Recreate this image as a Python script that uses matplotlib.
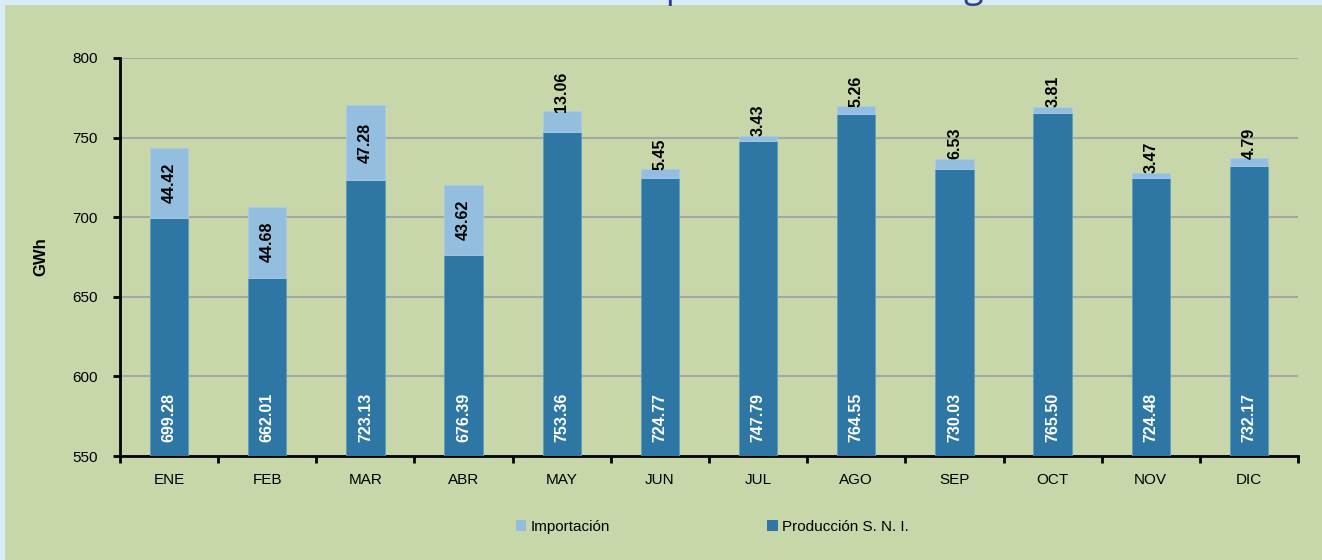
import numpy as np
import matplotlib
matplotlib.use('Agg')
import matplotlib.pyplot as plt
from matplotlib.patches import Rectangle, Patch

plt.rcParams['font.family'] = ['Liberation Sans', 'DejaVu Sans']

# data
meses = ['ENE', 'FEB', 'MAR', 'ABR', 'MAY', 'JUN', 'JUL', 'AGO', 'SEP', 'OCT', 'NOV', 'DIC']
produccion = [699.28, 662.01, 723.13, 676.39, 753.36, 724.77, 747.79, 764.55, 730.03, 765.50, 724.48, 732.17]
importacion = [44.42, 44.68, 47.28, 43.62, 13.06, 5.45, 3.43, 5.26, 6.53, 3.81, 3.47, 4.79]
yticks = [550, 600, 650, 700, 750, 800]

c_prod = '#2E77A5'
c_imp = '#93BEDF'
c_bg = '#C8D7A9'
c_border = '#D6EDF5'

fig = plt.figure(figsize=(13.22, 5.6), dpi=100, facecolor=c_border)
fig.patches.append(Rectangle((5 / 1322, 0), 1, 555 / 560, transform=fig.transFigure,
                             facecolor=c_bg, edgecolor='none', zorder=-5))

# cut-off title at the very top
fig.text(396 / 1322, 1 + 3 / 560, 'Producción e importación de energía', fontsize=25.8,
         family=['Open Sans', 'DejaVu Sans'], color='#2E3F97', ha='left', va='baseline')

ax = fig.add_axes([120 / 1322, 104 / 560, 1178 / 1322, 398 / 560])
ax.set_facecolor('none')
ax.set_zorder(2)

x = np.arange(len(meses))
w = 0.39
ax.bar(x, np.array(produccion) - 550, width=w, bottom=550, color=c_prod, zorder=3,
       edgecolor='#5C9CC4', linewidth=0.6)
ax.bar(x, importacion, width=w, bottom=produccion, color=c_imp, zorder=3,
       edgecolor='#A9CBE6', linewidth=0.6)

tot = np.array(produccion) + np.array(importacion)
for i in range(len(meses)):
    ax.text(x[i], 558.5, f'{produccion[i]:.2f}', rotation=90, ha='center', va='bottom',
            color='white', fontsize=11.5, fontweight='bold', zorder=4)
    if importacion[i] > 20:
        ax.text(x[i], produccion[i] + importacion[i] / 2, f'{importacion[i]:.2f}', rotation=90,
                ha='center', va='center', color='black', fontsize=11.5, fontweight='bold', zorder=4)
    else:
        ax.text(x[i], tot[i] - 0.3, f'{importacion[i]:.2f}', rotation=90,
                ha='center', va='bottom', color='black', fontsize=11.5, fontweight='bold', zorder=4)

ax.set_xlim(-0.5, len(meses) - 0.5)
ax.set_ylim(550, 800)
ax.set_yticks(yticks)
ax.set_xticks(x)
ax.set_xticklabels(meses)
ax.set_xticks(np.arange(-0.5, len(meses)), minor=True)
ax.tick_params(axis='x', which='major', length=0, pad=12.5, labelsize=11)
ax.tick_params(axis='x', which='minor', length=5, width=2, direction='out')
ax.tick_params(axis='y', length=5, width=2, labelsize=11, pad=11)
ax.yaxis.grid(True, color='#A6A6A6', linewidth=1.5, zorder=1)
ax.set_axisbelow(True)
for s in ['top', 'right']:
    ax.spines[s].set_visible(False)
ax.spines['left'].set_linewidth(2)
ax.spines['bottom'].set_linewidth(2)
ax.set_ylabel('GWh', fontsize=12, fontweight='bold', labelpad=17)

handles = [Patch(facecolor=c_imp, label='Importación'),
           Patch(facecolor=c_prod, label='Producción S. N. I.')]
fig.legend(handles=handles, loc='center', bbox_to_anchor=(712 / 1322, 33 / 560), ncol=2,
           frameon=False, fontsize=11, handlelength=0.7, handleheight=0.7,
           handletextpad=0.25, columnspacing=10.3)

fig.savefig('out.png', dpi=100, facecolor=fig.get_facecolor())
